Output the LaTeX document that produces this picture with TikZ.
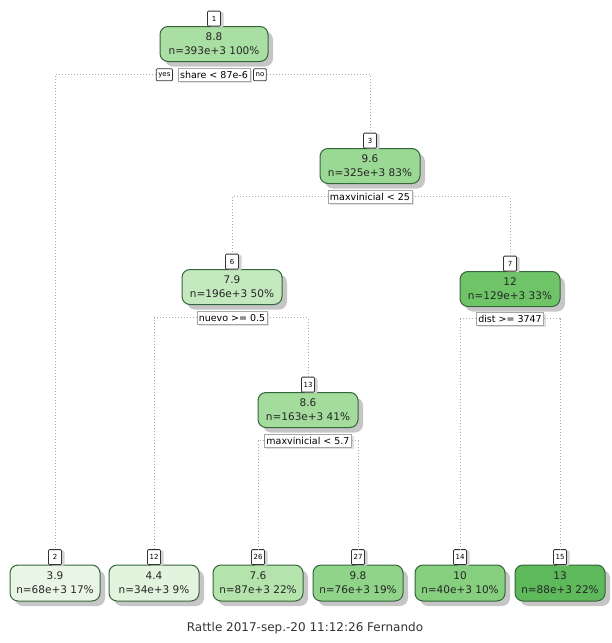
\documentclass[tikz,border=0pt]{standalone}
\usepackage{fontspec}
\setmainfont{DejaVu Sans}
\usetikzlibrary{positioning,shadows}

\definecolor{boxline}{HTML}{35663A}
\definecolor{gA}{HTML}{A9DFA2}
\definecolor{gB}{HTML}{9AD993}
\definecolor{gC}{HTML}{C5E9BE}
\definecolor{gD}{HTML}{6FC468}
\definecolor{gE}{HTML}{A3DC9C}
\definecolor{gF}{HTML}{E9F6E5}
\definecolor{gG}{HTML}{E2F3DE}
\definecolor{gH}{HTML}{B4E3AC}
\definecolor{gI}{HTML}{8FD488}
\definecolor{gJ}{HTML}{86CF7F}
\definecolor{gK}{HTML}{5EB95A}

\tikzset{
  tnode/.style={draw=boxline, line width=1pt, rounded corners=8pt,
    minimum width=100pt, minimum height=35pt, align=center, inner sep=2pt,
    text=black!85, font=\fontsize{10.5}{14}\selectfont,
    drop shadow={shadow xshift=5pt, shadow yshift=-5pt, fill=gray!45, opacity=1}},
  leaf/.style={tnode, minimum width=90pt, minimum height=36pt},
  numbox/.style={draw=black!80, fill=white, line width=0.8pt, rounded corners=1pt,
    minimum width=13pt, minimum height=15pt, inner sep=1pt,
    font=\fontsize{7}{7}\selectfont,
    drop shadow={shadow xshift=3pt, shadow yshift=-1pt, fill=gray!35, opacity=1}},
  split/.style={draw=gray!70, fill=white, line width=0.6pt, inner sep=2pt,
    minimum height=13pt, font=\fontsize{9.5}{10}\selectfont,
    drop shadow={shadow xshift=2pt, shadow yshift=-2pt, fill=gray!25, opacity=1}},
  yesno/.style={draw=black!80, fill=white, line width=0.8pt, rounded corners=1pt,
    inner sep=2pt, minimum height=12pt, font=\fontsize{7}{7}\selectfont},
  link/.style={gray!65, dotted, line width=1pt}
}

\begin{document}
\begin{tikzpicture}[x=1pt,y=-1pt]
\useasboundingbox (0,0) rectangle (611,643);

% inner nodes
\node[tnode, fill=gA, minimum width=108pt] (n1) at (214,44) {8.8\\n=393e+3 100\%};
\node[tnode, fill=gB] (n3) at (370,166) {9.6\\n=325e+3 83\%};
\node[tnode, fill=gC] (n6) at (232,287) {7.9\\n=196e+3 50\%};
\node[tnode, fill=gD] (n7) at (510,289) {12\\n=129e+3 33\%};
\node[tnode, fill=gE] (n13) at (308,410) {8.6\\n=163e+3 41\%};

% leaves
\node[leaf, fill=gF] (n2) at (55,583) {3.9\\n=68e+3 17\%};
\node[leaf, fill=gG] (n12) at (154,583) {4.4\\n=34e+3 9\%};
\node[leaf, fill=gH] (n26) at (258,583) {7.6\\n=87e+3 22\%};
\node[leaf, fill=gI] (n27) at (358,583) {9.8\\n=76e+3 19\%};
\node[leaf, fill=gJ] (n14) at (460,583) {10\\n=40e+3 10\%};
\node[leaf, fill=gK] (n15) at (560,583) {13\\n=88e+3 22\%};

% node numbers
\node[numbox, above=-0.5pt of n1] (b1) {1};
\node[numbox, above=-0.5pt of n3] (b3) {3};
\node[numbox, above=-0.5pt of n6] (b6) {6};
\node[numbox, above=-0.5pt of n7] (b7) {7};
\node[numbox, above=-0.5pt of n13] (b13) {13};
\node[numbox, above=-0.5pt of n2] (b2) {2};
\node[numbox, above=-0.5pt of n12] (b12) {12};
\node[numbox, above=-0.5pt of n26] (b26) {26};
\node[numbox, above=-0.5pt of n27] (b27) {27};
\node[numbox, above=-0.5pt of n14] (b14) {14};
\node[numbox, above=-0.5pt of n15] (b15) {15};

% split rules
\node[split, below=6pt of n1] (s1) {share < 87e-6};
\node[yesno, left=5pt of s1] (yes) {yes};
\node[yesno, right=3pt of s1] (no) {no};
\node[split, below=6pt of n3] (s3) {maxvinicial < 25};
\node[split, below=6pt of n6] (s6) {nuevo >= 0.5};
\node[split, below=5pt of n7] (s7) {dist >= 3747};
\node[split, below=6pt of n13] (s13) {maxvinicial < 5.7};

% branches
\draw[link] (yes.west) -| (b2.north);
\draw[link] (no.east) -| (b3.north);
\draw[link] (s3.west) -| (b6.north);
\draw[link] (s3.east) -| (b7.north);
\draw[link] (s6.west) -| (b12.north);
\draw[link] (s6.east) -| (b13.north);
\draw[link] (s7.west) -| (b14.north);
\draw[link] (s7.east) -| (b15.north);
\draw[link] (s13.west) -| (b26.north);
\draw[link] (s13.east) -| (b27.north);

\node[text=black!80, font=\fontsize{12}{14}\selectfont] (foot) at (305,628)
  {Rattle 2017-sep.-20 11:12:26 Fernando};
\end{tikzpicture}
\end{document}
